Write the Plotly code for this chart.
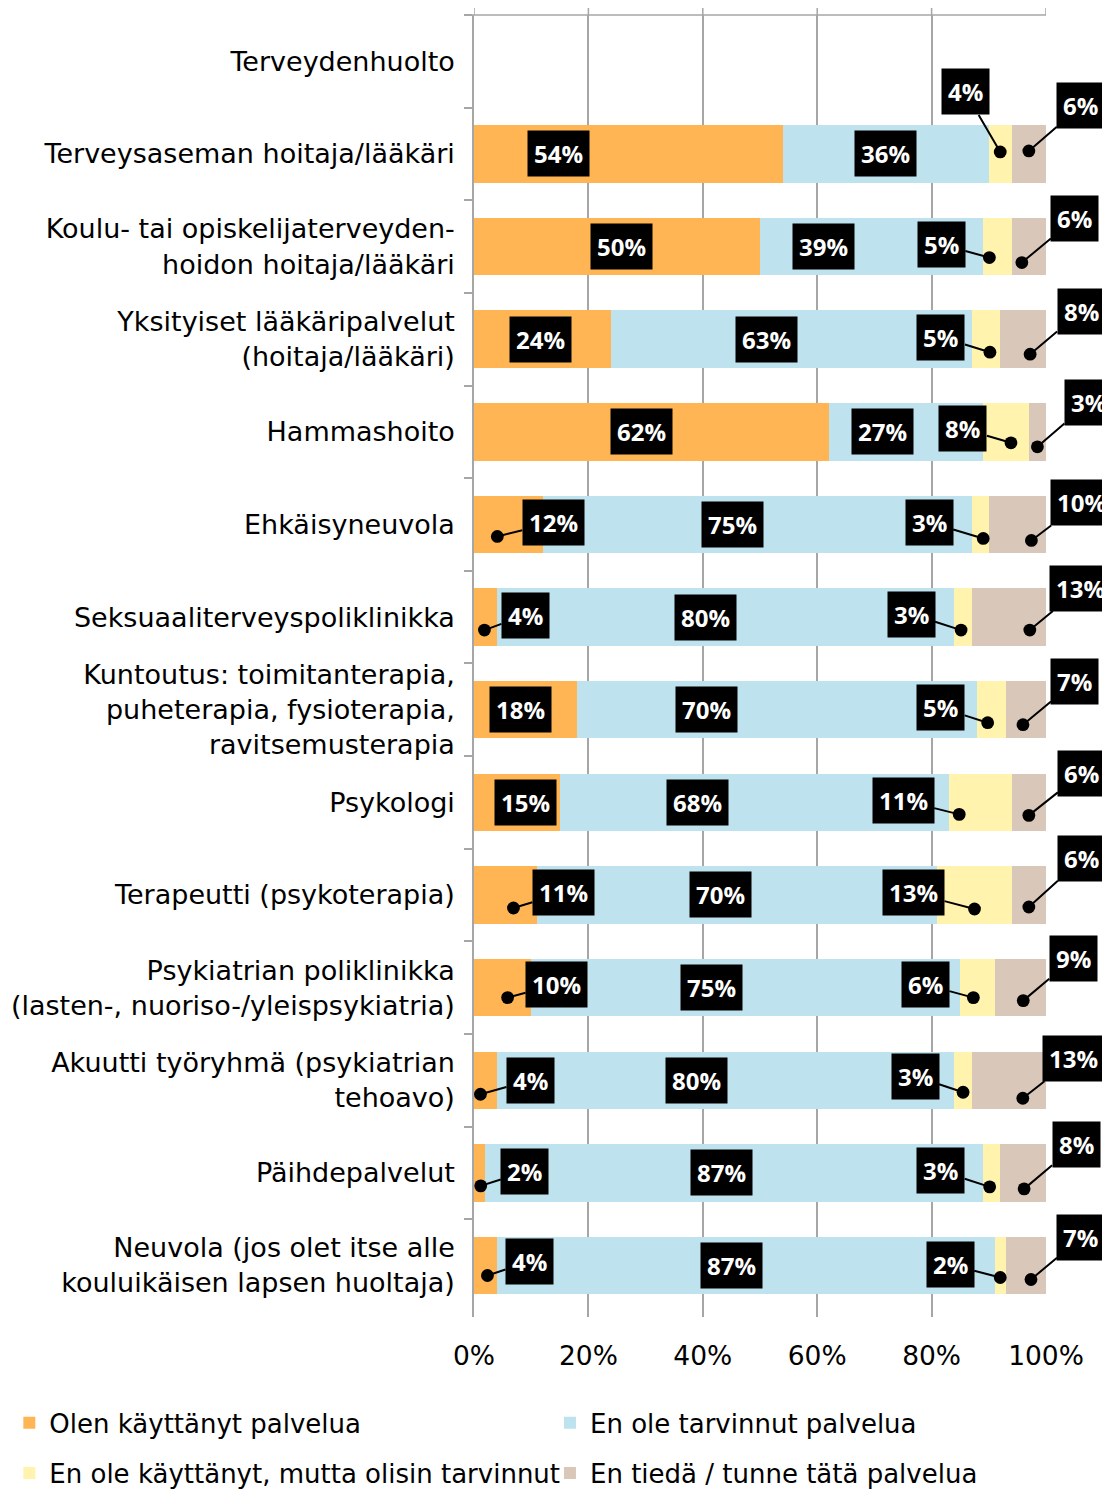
"""Stacked horizontal bar chart of health service use."""

import plotly.graph_objects as go

categories = [
    "Terveydenhuolto",
    "Terveysaseman hoitaja/lääkäri",
    "Koulu- tai opiskelijaterveyden-<br>hoidon hoitaja/lääkäri",
    "Yksityiset lääkäripalvelut<br>(hoitaja/lääkäri)",
    "Hammashoito",
    "Ehkäisyneuvola",
    "Seksuaaliterveyspoliklinikka",
    "Kuntoutus: toimitanterapia,<br>puheterapia, fysioterapia,<br>ravitsemusterapia",
    "Psykologi",
    "Terapeutti (psykoterapia)",
    "Psykiatrian poliklinikka<br>(lasten-, nuoriso-/yleispsykiatria)",
    "Akuutti työryhmä (psykiatrian<br>tehoavo)",
    "Päihdepalvelut",
    "Neuvola (jos olet itse alle<br>kouluikäisen lapsen huoltaja)",
]

series_names = [
    "Olen käyttänyt palvelua",
    "En ole tarvinnut palvelua",
    "En ole käyttänyt, mutta olisin tarvinnut",
    "En tiedä / tunne tätä palvelua",
]

used = [None, 54, 50, 24, 62, 12, 4, 18, 15, 11, 10, 4, 2, 4]
not_needed = [None, 36, 39, 63, 27, 75, 80, 70, 68, 70, 75, 80, 87, 87]
would_have_needed = [None, 4, 5, 5, 8, 3, 3, 5, 11, 13, 6, 3, 3, 2]
dont_know = [None, 6, 6, 8, 3, 10, 13, 7, 6, 6, 9, 13, 8, 7]

x_tick_vals = [0, 20, 40, 60, 80, 100]
x_tick_text = ["0%", "20%", "40%", "60%", "80%", "100%"]

colors = ["#FFB554", "#BEE3EF", "#FFF3AD", "#D9C8BA"]
FONT = "DejaVu Sans"
LABEL_FONT = "Open Sans"
GRID = "#a6a6a6"

# label placement: plain boxes get a pixel shift, callouts get
# (dot dx, dot dy, box dx, box dy) in pixels
box_shift = {
    (1, 0): -70, (1, 1): 0,
    (2, 0): 4, (2, 1): -48,
    (3, 0): -2, (3, 1): -25,
    (4, 0): -10, (4, 1): -23,
    (5, 1): -25,
    (6, 1): -20,
    (7, 0): -5, (7, 1): -71,
    (8, 0): 9, (8, 1): -57,
    (9, 1): -17,
    (10, 1): -34,
    (11, 1): -29,
    (12, 1): -13,
    (13, 1): -14,
}
callouts = {
    (1, 2): (0, -2, -35, -60), (1, 3): (0, -3, 52, -45),
    (2, 2): (-8, 11, -48, -13), (2, 3): (-7, 16, 53, -44),
    (3, 2): (4, 13, -49, -15), (3, 3): (7, 15, 51, -43),
    (4, 2): (5, 11, -48, -14), (4, 3): (0, 15, 51, -44),
    (5, 0): (-11, 12, 56, -14), (5, 2): (3, 14, -54, -16), (5, 3): (14, 16, 50, -38),
    (6, 0): (-1, 13, 41, -15), (6, 2): (-2, 13, -50, -16), (6, 3): (21, 13, 51, -42),
    (7, 2): (-4, 13, -47, -15), (7, 3): (-3, 15, 52, -43),
    (8, 2): (-21, 12, -56, -14), (8, 3): (0, 13, 53, -42),
    (9, 0): (8, 13, 50, -15), (9, 2): (0, 14, -61, -16), (9, 3): (0, 12, 53, -48),
    (10, 0): (5, 10, 49, -13), (10, 2): (-4, 10, -48, -13), (10, 3): (3, 13, 50, -42),
    (11, 0): (-5, 14, 50, -14), (11, 2): (0, 12, -48, -16), (11, 3): (14, 18, 51, -40),
    (12, 0): (1, 13, 44, -14), (12, 2): (-2, 14, -49, -16), (12, 3): (1, 16, 52, -44),
    (13, 0): (2, 10, 42, -14), (13, 2): (0, 12, -50, -13), (13, 3): (5, 14, 50, -42),
}

all_series = [used, not_needed, would_have_needed, dont_know]
legend_ids = ["legend", "legend2", "legend3", "legend4"]

fig = go.Figure()

for s, (name, values) in enumerate(zip(series_names, all_series)):
    fig.add_trace(go.Bar(
        y=categories,
        x=values,
        name=name,
        orientation="h",
        marker={"color": colors[s], "line": {"width": 0}},
        legend=legend_ids[s],
        hoverinfo="x+name",
    ))

# Data labels
for i, cat in enumerate(categories):
    left = 0
    for s, values in enumerate(all_series):
        v = values[i]
        if v is None:
            continue
        center = left + v / 2
        left += v
        label = dict(
            x=center, y=cat, xref="x", yref="y",
            text=f"<b>{v}%</b>",
            font={"family": LABEL_FONT, "size": 24, "color": "white"},
            bgcolor="black", borderpad=6,
        )
        if (i, s) in callouts:
            dx, dy, ax, ay = callouts[(i, s)]
            label.update(
                xshift=dx, yshift=-dy, showarrow=True,
                ax=ax, ay=ay, axref="pixel", ayref="pixel",
                arrowhead=6, arrowsize=1.6, arrowwidth=2,
                arrowcolor="black", standoff=0,
            )
        else:
            label.update(xshift=box_shift.get((i, s), 0), showarrow=False)
        fig.add_annotation(**label)

# value axis line along the top of the plot
fig.add_shape(
    type="line", xref="x domain", yref="y domain",
    x0=-0.014, x1=1, y0=1, y1=1,
    line={"color": GRID, "width": 1.5},
)
# gridlines poke a little above the top axis line
for xv in x_tick_vals:
    fig.add_shape(
        type="line", xref="x", yref="y domain",
        x0=xv, x1=xv, y0=1, y1=1 + 10 / 1302,
        line={"color": GRID, "width": 1.5},
    )

# one legend per entry, laid out as a 2 x 2 grid under the plot
legend_pos = [(0.0012, 0.0446), (0.4918, 0.0446), (0.0012, 0.0108), (0.4918, 0.0108)]
legends = {}
for lid, (lx, ly) in zip(legend_ids, legend_pos):
    legends[lid] = {
        "xref": "container", "yref": "container",
        "x": lx, "y": ly,
        "xanchor": "left", "yanchor": "middle",
        "font": {"family": FONT, "size": 26},
        "bgcolor": "rgba(0,0,0,0)",
    }

fig.update_layout(
    width=1102,
    height=1481,
    barmode="stack",
    bargap=0.38,
    plot_bgcolor="white",
    paper_bgcolor="white",
    font={"family": FONT, "size": 27, "color": "black"},
    margin={"l": 466, "r": 64, "t": 7, "b": 172, "autoexpand": False},
    xaxis={
        "range": [0, 100],
        "tickvals": x_tick_vals,
        "ticktext": x_tick_text,
        "showgrid": True,
        "gridcolor": GRID,
        "gridwidth": 1.5,
        "zeroline": False,
        "showline": False,
        "ticks": "",
        "ticklabelstandoff": 20,
        "tickfont": {"size": 26.5},
    },
    yaxis={
        "type": "category",
        "categoryorder": "array",
        "categoryarray": categories,
        "autorange": "reversed",
        "showline": True,
        "linecolor": GRID,
        "linewidth": 1.5,
        "ticks": "outside",
        "tickson": "boundaries",
        "ticklen": 8,
        "tickcolor": GRID,
        "tickwidth": 1.5,
        "showgrid": False,
        "ticklabelstandoff": 12,
    },
    showlegend=True,
    **legends,
)

fig.write_html("out.html")
